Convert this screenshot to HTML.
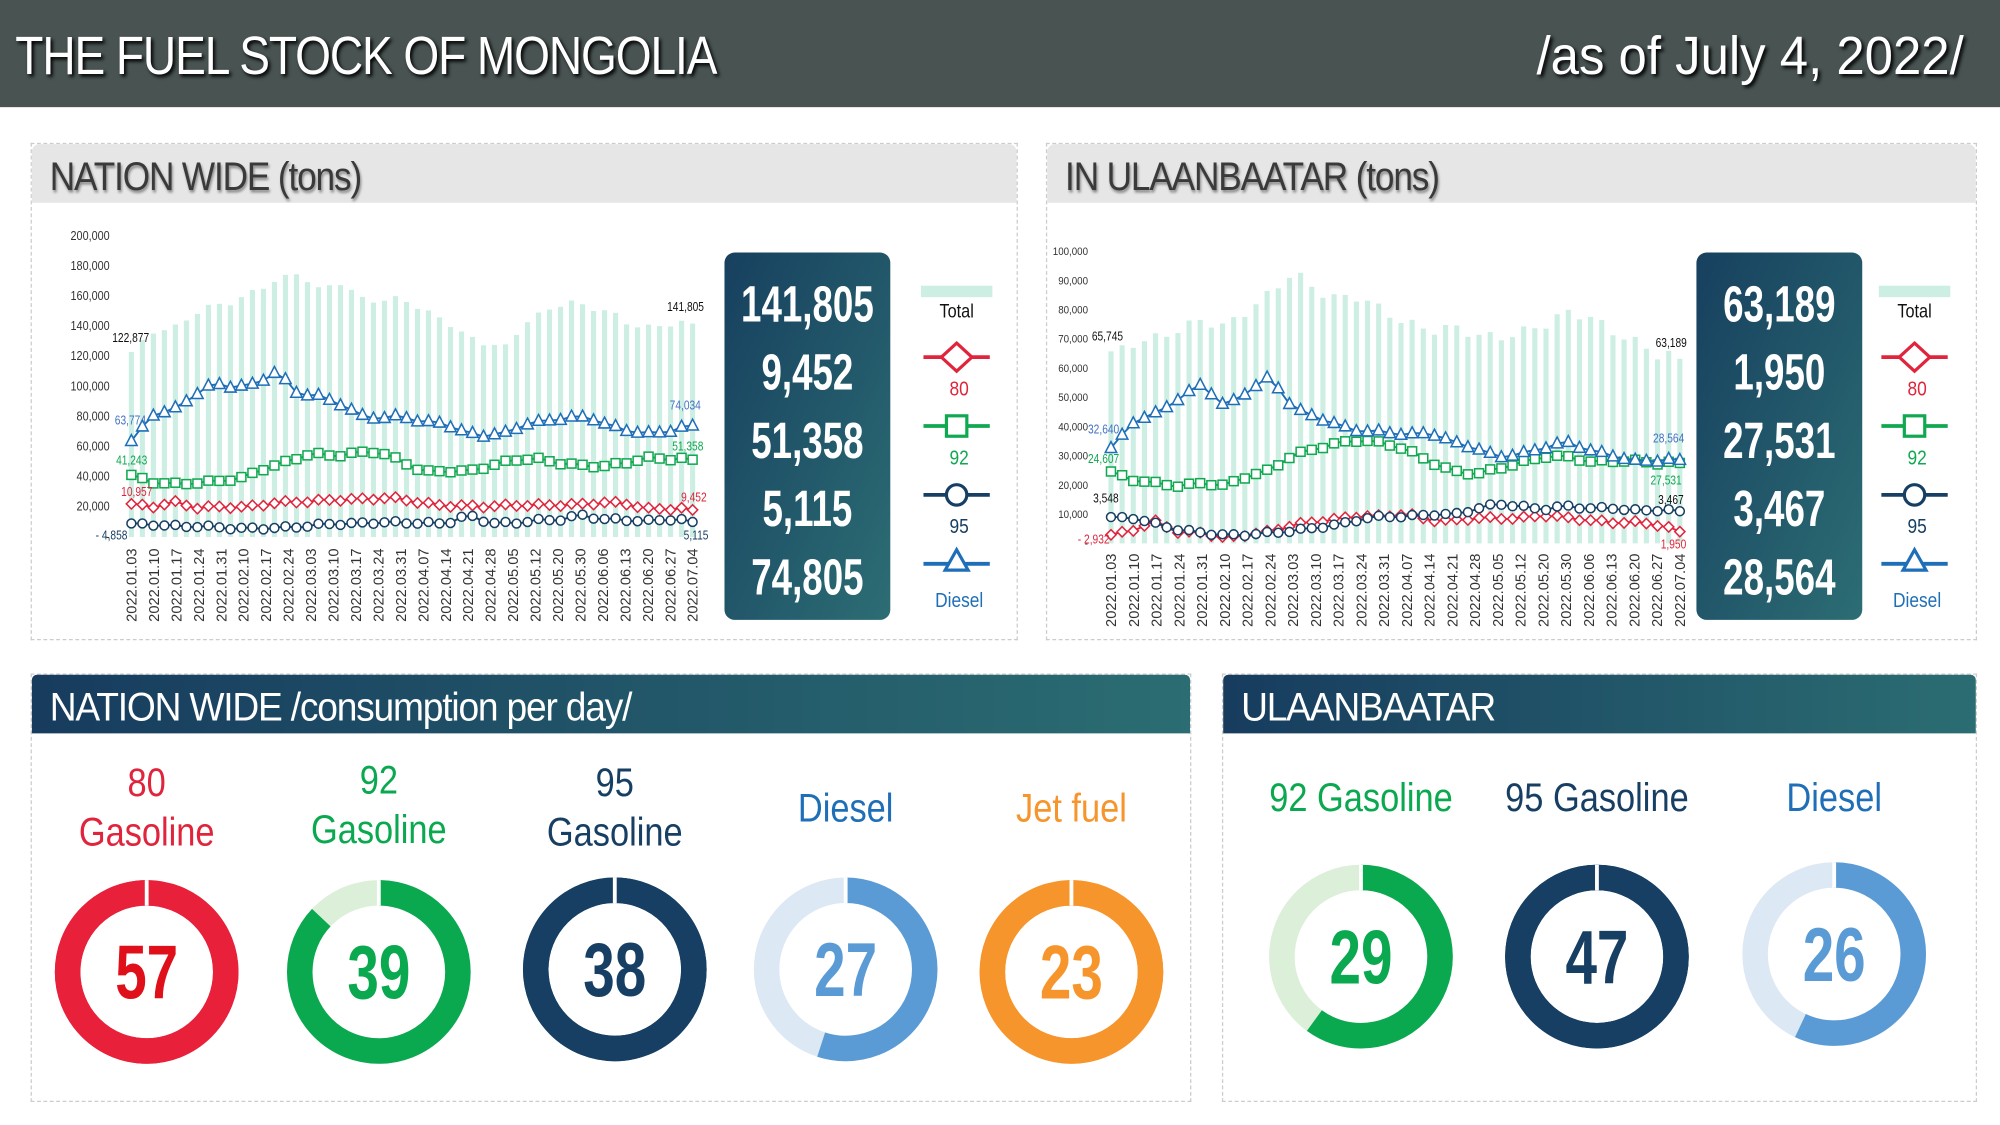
<!DOCTYPE html>
<html><head><meta charset="utf-8">
<style>
html,body{margin:0;padding:0;background:#fff;width:2000px;height:1125px;overflow:hidden}
#s{position:absolute;left:0;top:0;width:1568px;height:882px;transform:scale(1.27551);transform-origin:0 0;font-family:"Liberation Sans",sans-serif}
.hdr{position:absolute;left:0;top:0;width:1568px;height:84px;background:#485352}
.hdr .t{position:absolute;left:12px;top:20px;color:#fff;font-size:42px;letter-spacing:-1px;text-shadow:2px 2px 3px #000;transform:scaleX(0.86);transform-origin:0 0;white-space:nowrap}
.hdr .d{position:absolute;right:28px;top:20px;color:#fff;font-size:42px;text-shadow:2px 2px 3px #000;transform:scaleX(0.95);transform-origin:100% 0;white-space:nowrap}
.panel{position:absolute;border:1.5px dashed #ccc;box-sizing:border-box}
.ph{position:absolute;left:0;top:0;right:0;height:46px;background:#e6e6e6;border-radius:6px 6px 0 0}
.ph span{position:absolute;left:14px;top:8px;font-size:31px;color:#3a3a3a;letter-spacing:-1px;text-shadow:1px 2px 2px #888;transform:scaleX(0.89);transform-origin:0 0;white-space:nowrap}
.th{position:absolute;left:0;top:0;right:0;height:46px;background:linear-gradient(90deg,#173c5e,#2b6d72);border-radius:4px 4px 0 0}
.th span{position:absolute;left:14px;top:8px;font-size:31px;color:#fff;letter-spacing:-1px;transform:scaleX(0.94);transform-origin:0 0;white-space:nowrap}
svg{position:absolute;left:0;top:0}
</style></head><body>
<div id="s">
<div class="hdr"><div class="t">THE FUEL STOCK OF MONGOLIA</div><div class="d">/as of July 4, 2022/</div></div>
<div class="panel" style="left:24px;top:112px;width:774px;height:390px"><div class="ph"><span>NATION WIDE (tons)</span></div></div>
<div class="panel" style="left:820px;top:112px;width:730px;height:390px"><div class="ph"><span>IN ULAANBAATAR (tons)</span></div></div>
<div class="panel" style="left:24px;top:528px;width:910px;height:336px"><div class="th"><span>NATION WIDE /consumption per day/</span></div></div>
<div class="panel" style="left:958px;top:528px;width:592px;height:336px"><div class="th"><span>ULAANBAATAR</span></div></div>
<svg id="g" width="1568" height="882" viewBox="0 0 1568 882" font-family="Liberation Sans, sans-serif">
<defs><linearGradient id="bx" x1="0" y1="0" x2="1" y2="1"><stop offset="0" stop-color="#17405f"/><stop offset="1" stop-color="#2c6d74"/></linearGradient></defs>
</svg>
</div>
<script>
var NS="http://www.w3.org/2000/svg",g=document.getElementById('g');
function el(t,a,txt){var e=document.createElementNS(NS,t);for(var k in a)e.setAttribute(k,a[k]);if(txt!==undefined)e.textContent=txt;g.appendChild(e);return e;}
function tx(x,y,sx,a,txt){a.transform='translate('+x+' '+y+') scale('+sx+' 1)';a.x=0;a.y=0;return el('text',a,txt);}
function interp(keys,n){var r=[];for(var i=0;i<n;i++){var p=i*(keys.length-1)/(n-1),j=Math.floor(p),f=p-j;var v=j>=keys.length-1?keys[keys.length-1]:keys[j]*(1-f)+keys[j+1]*f;r.push(v);}return r;}
function jit(a,amp){return a.map(function(v,i){return i==0||i==a.length-1?v:v+amp*Math.sin(i*2.3)*((i%3)-1);});}
var dates=["2022.01.03","2022.01.10","2022.01.17","2022.01.24","2022.01.31","2022.02.10","2022.02.17","2022.02.24","2022.03.03","2022.03.10","2022.03.17","2022.03.24","2022.03.31","2022.04.07","2022.04.14","2022.04.21","2022.04.28","2022.05.05","2022.05.12","2022.05.20","2022.05.30","2022.06.06","2022.06.13","2022.06.20","2022.06.27","2022.07.04"];
function chart(o){
 var N=52,x0=o.x0,x1=o.x1,y0=o.y0,sc=o.sc;
 function X(i){return x0+(x1-x0)*i/(N-1);} function Y(v){return y0-v*sc;}
 o.ticks.forEach(function(t){tx(o.lx,Y(t)+3,0.85,{'font-size':o.tfs,'text-anchor':'end',fill:'#333'},t==0?'-':t.toLocaleString('en-US'));});
 var tot=jit(interp(o.total,N),3000);
 tot.forEach(function(v,i){el('rect',{x:X(i)-2,y:Y(v),width:4,height:v*sc,fill:'#cdeee3'});});
 var ser=[[o.d80,'#e0243c','d'],[o.d92,'#10a850','s'],[o.d95,'#173f63','c'],[o.dd,'#1f6fb8','t']];
 ser.forEach(function(s){var a=jit(interp(s[0],N),o.j);var pts=a.map(function(v,i){return X(i)+','+Y(v)}).join(' ');
  el('polyline',{points:pts,fill:'none',stroke:s[1],'stroke-width':1.5});
  a.forEach(function(v,i){var x=X(i),y=Y(v),r=4;
   if(s[2]=='d')el('polygon',{points:(x)+','+(y-r)+' '+(x+r)+','+y+' '+x+','+(y+r)+' '+(x-r)+','+y,fill:'#fff',stroke:s[1],'stroke-width':1.2});
   if(s[2]=='s')el('rect',{x:x-3.5,y:y-3.5,width:7,height:7,fill:'#fff',stroke:s[1],'stroke-width':1.2});
   if(s[2]=='c')el('circle',{cx:x,cy:y,r:3.5,fill:'#fff',stroke:s[1],'stroke-width':1.2});
   if(s[2]=='t')el('polygon',{points:x+','+(y-5)+' '+(x+4.5)+','+(y+3.5)+' '+(x-4.5)+','+(y+3.5),fill:'#fff',stroke:s[1],'stroke-width':1.2});
  });});
 dates.forEach(function(d,i){var x=x0+(x1-x0)*i/(dates.length-1)+4;el('text',{x:x,y:o.dy,'font-size':11.5,'text-anchor':'end',fill:'#333',transform:'rotate(-90 '+x+' '+o.dy+')'},d);});
 o.anns.forEach(function(a){tx(a[0],a[1],0.8,{'font-size':10,fill:a[3]},a[2]);});
 el('rect',{x:o.bx,y:198,width:130,height:288,rx:8,fill:'url(#bx)'});
 o.vals.forEach(function(v,i){tx(o.bx+65,252+i*53.5,0.72,{'font-size':40,'font-weight':'bold','text-anchor':'middle',fill:'#fff'},v);});
 var lx=o.lgx;
 el('rect',{x:lx-28,y:224,width:56,height:9,fill:'#cdeee3'});tx(lx,249,0.85,{'font-size':15,'text-anchor':'middle',fill:'#111'},'Total');
 var ly=[280,334,388,442],nm=['80','92','95','Diesel'];
 ser.forEach(function(s,i){var y=ly[i];el('line',{x1:lx-26,y1:y,x2:lx+26,y2:y,stroke:s[1],'stroke-width':3});
  if(i==0)el('polygon',{points:lx+','+(y-11)+' '+(lx+12)+','+y+' '+lx+','+(y+11)+' '+(lx-12)+','+y,fill:'#fff',stroke:s[1],'stroke-width':2.5});
  if(i==1)el('rect',{x:lx-8,y:y-8,width:16,height:16,fill:'#fff',stroke:s[1],'stroke-width':2.5});
  if(i==2)el('circle',{cx:lx,cy:y,r:8,fill:'#fff',stroke:s[1],'stroke-width':2.5});
  if(i==3)el('polygon',{points:lx+','+(y-11)+' '+(lx+9)+','+(y+5)+' '+(lx-9)+','+(y+5),fill:'#fff',stroke:s[1],'stroke-width':2.5});
  tx(lx+2,y+(i==3?34:30),0.85,{'font-size':16,'text-anchor':'middle',fill:s[1]},nm[i]);});
}
chart({x0:103,x1:543,y0:421,sc:236/200000,lx:86,tfs:10,ticks:[0,20000,40000,60000,80000,100000,120000,140000,160000,180000,200000],j:1500,dy:430,
 total:[122877,138000,140000,150000,156000,157000,165000,170000,175000,163000,168000,157000,155000,158000,150000,145000,135000,130000,128000,145000,152000,158000,153000,150000,140000,138000,140000,141805],
 dd:[63774,82000,85000,95000,103000,100000,102000,110000,95000,93000,88000,80000,78000,80000,76000,76000,70000,68000,70000,76000,78000,80000,80000,74000,70000,68000,70000,74034],
 d92:[41243,37000,36000,37000,38000,40000,46000,50000,55000,53000,55000,56000,50000,43000,44000,44000,48000,52000,53000,50000,48000,47000,49000,52000,51000,51358],
 d80:[22000,21000,24000,20000,21000,20000,22000,23000,23000,24000,24000,25000,25000,22000,21000,21000,21000,22000,22000,22000,22000,23000,22000,18000,18000,18000],
 d95:[9000,9000,8000,8000,7000,6000,6000,6000,7000,8000,8000,9000,9000,9000,9000,15000,10000,10000,12000,12000,15000,12000,11000,10000,11000,10000],
 anns:[[88,268,'122,877','#111'],[523,244,'141,805','#111'],[90,333,'63,774','#4472c4'],[525,321,'74,034','#4472c4'],[91,364,'41,243','#10a850'],[527,353,'51,358','#10a850'],[95,389,'10,957','#e0243c'],[534,393,'9,452','#e0243c'],[75,423,'- 4,858','#173f63'],[536,423,'5,115','#173f63']],
 bx:568,vals:['141,805','9,452','51,358','5,115','74,805'],lgx:750});
chart({x0:871,x1:1317,y0:426,sc:229/100000,lx:853,tfs:9,ticks:[0,10000,20000,30000,40000,50000,60000,70000,80000,90000,100000],j:700,dy:434,
 total:[65745,70000,72000,75000,78000,75000,80000,85000,92000,85000,82000,83000,78000,75000,73000,75000,73000,72000,74000,76000,80000,78000,72000,68000,63000,63189],
 dd:[32640,42000,45000,50000,55000,47000,52000,57000,46000,43000,40000,38000,38000,37000,38000,35000,33000,30000,31000,33000,35000,32000,30000,28000,28000,28564],
 d92:[24607,22000,21000,20000,21000,20000,23000,25000,30000,32000,34000,35000,34000,32000,28000,25000,24000,26000,28000,30000,30000,28000,28000,28000,27000,27531],
 d80:[2932,5000,8000,4000,4000,2000,3000,4000,6000,7000,8000,9000,9000,10000,8000,8000,9000,9000,9000,10000,9000,8000,7000,7000,6000,4000],
 d95:[9000,9000,7000,5000,4000,3000,3000,3500,4000,5000,6000,8000,9000,9000,10000,10000,12000,14000,13000,12000,13000,12000,12000,11000,11000,11000],
 anns:[[856,267,'65,745','#111'],[1298,272,'63,189','#111'],[853,340,'32,640','#4472c4'],[1296,347,'28,564','#4472c4'],[853,363,'24,607','#10a850'],[1294,380,'27,531','#10a850'],[857,394,'3,548','#111'],[1300,395,'3,467','#111'],[845,426,'- 2,932','#e0243c'],[1302,430,'1,950','#e0243c']],
 bx:1330,vals:['63,189','1,950','27,531','3,467','28,564'],lgx:1501});
function donut(cx,cy,frac,col,bg,num,lines,lcol,ly){
 var r=62,w=20,C=2*Math.PI*r;
 el('circle',{cx:cx,cy:cy,r:r,fill:'none',stroke:bg,'stroke-width':w});
 el('circle',{cx:cx,cy:cy,r:r,fill:'none',stroke:col,'stroke-width':w,'stroke-dasharray':(C*frac)+' '+C,transform:'rotate(-90 '+cx+' '+cy+')'});
 el('line',{x1:cx,y1:cy-r-w/2,x2:cx,y2:cy-r+w/2,stroke:'#fff','stroke-width':3});
 tx(cx,cy+21,0.74,{'font-size':60,'font-weight':'bold','text-anchor':'middle',fill:col=='#e8203a'?'#e0101a':col},num);
 lines.forEach(function(t,i){tx(cx,ly+i*39,0.87,{'font-size':31,'text-anchor':'middle',fill:lcol},t);});
}
donut(115,762,1,'#e8203a','#e8203a','57',['80','Gasoline'],'#e0243c',624);
donut(297,762,0.87,'#0aa84f','#dcefd8','39',['92','Gasoline'],'#0aa84f',622);
donut(482,760,1,'#173f63','#173f63','38',['95','Gasoline'],'#173f63',624);
donut(663,760,0.55,'#5b9bd5','#dde8f5','27',['Diesel'],'#1f6fb8',644);
donut(840,762,1,'#f7952d','#f7952d','23',['Jet fuel'],'#f7952d',644);
donut(1067,750,0.6,'#0aa84f','#dcefd8','29',['92 Gasoline'],'#0aa84f',636);
donut(1252,750,1,'#173f63','#173f63','47',['95 Gasoline'],'#173f63',636);
donut(1438,748,0.57,'#5b9bd5','#dde8f5','26',['Diesel'],'#1f6fb8',636);
</script>
</body></html>
